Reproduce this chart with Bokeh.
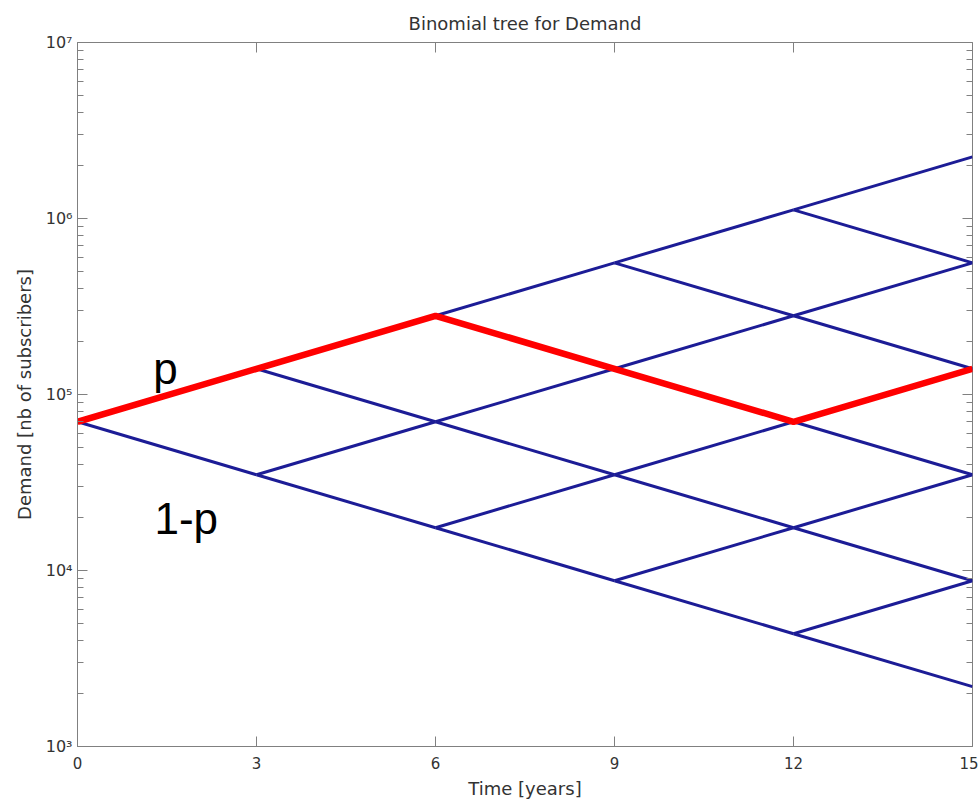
from bokeh.plotting import figure
from bokeh.models import (LinearAxis, LogAxis, FixedTicker, CustomJSTickFormatter,
                          Range1d)
from bokeh.embed import file_html
from bokeh.resources import INLINE
from bokeh.core.properties import value

# ---------------- data ----------------
times = [0, 3, 6, 9, 12, 15]
demand_levels = [
    [70000],
    [140000, 35000],
    [280000, 70000, 17500],
    [560000, 140000, 35000, 8750],
    [1120000, 280000, 70000, 17500, 4375],
    [2240000, 560000, 140000, 35000, 8750, 2187.5],
]
path_times = [0, 3, 6, 9, 12, 15]
path_demand = [70000, 140000, 280000, 140000, 70000, 140000]

x_ticks = [0, 3, 6, 9, 12, 15]
y_ticks = [1e3, 1e4, 1e5, 1e6, 1e7]
y_minor = [m * t for t in y_ticks[:-1] for m in range(2, 10)]

annot_text = ["p", "1-p"]
annot_x = [1.27, 1.29]
annot_y = [140500, 19700]

# ---------------- build tree edges ----------------
xs, ys = [], []
for i in range(len(times) - 1):
    nxt = demand_levels[i + 1]
    for k, v in enumerate(demand_levels[i]):
        xs.append([times[i], times[i + 1]]); ys.append([v, nxt[k]])
        xs.append([times[i], times[i + 1]]); ys.append([v, nxt[k + 1]])

FONT = "DejaVu Sans"
GRAY = "#808080"
TXT = "#333333"

p = figure(width=978, height=804, x_range=Range1d(0, 15), y_range=Range1d(1e3, 1e7),
           y_axis_type="log", output_backend="svg", toolbar_location=None,
           title="Binomial tree for Demand",
           min_border_left=77, min_border_right=6, min_border_top=42, min_border_bottom=58)

p.background_fill_color = "white"
p.border_fill_color = "white"
p.outline_line_color = GRAY
p.grid.visible = False

p.title.align = "center"
p.title.text_font = FONT
p.title.text_font_size = "18px"
p.title.text_font_style = "normal"
p.title.text_color = TXT
p.title.standoff = 18

p.multi_line(xs, ys, line_color="#1c1c96", line_width=3)
p.line(path_times, path_demand, line_color="#ff0000", line_width=6.5)

p.text(x=annot_x, y=annot_y, text=annot_text, text_font=value("Liberation Sans"),
       text_font_size="44px", text_color="black", text_baseline="alphabetic",
       text_align="left")

sup_code = """
const sup = {'0':'\u2070','1':'\u00b9','2':'\u00b2','3':'\u00b3','4':'\u2074','5':'\u2075','6':'\u2076','7':'\u2077','8':'\u2078','9':'\u2079','-':'\u207b'};
const e = Math.round(Math.log10(tick));
return '10' + String(e).split('').map(c => sup[c]).join('');
"""

xax = p.xaxis[0]
xax.ticker = FixedTicker(ticks=x_ticks)
xax.axis_label = "Time [years]"
yax = p.yaxis[0]
yax.ticker = FixedTicker(ticks=y_ticks, minor_ticks=y_minor)
yax.formatter = CustomJSTickFormatter(code=sup_code)
yax.axis_label = "Demand [nb of subscribers]"

for ax in (xax, yax):
    ax.axis_line_color = GRAY
    ax.major_tick_line_color = GRAY
    ax.minor_tick_line_color = GRAY
    ax.major_tick_in = 10
    ax.major_tick_out = 0
    ax.minor_tick_in = 6
    ax.minor_tick_out = 0
    ax.major_label_text_font = FONT
    ax.major_label_text_font_size = "15px"
    ax.major_label_text_color = TXT
    ax.axis_label_text_font = FONT
    ax.axis_label_text_font_size = "18px"
    ax.axis_label_text_font_style = "normal"
    ax.axis_label_text_color = TXT
xax.minor_tick_line_color = None
xax.major_label_standoff = 10
xax.axis_label_standoff = 6
yax.major_label_standoff = 5
yax.axis_label_standoff = 8
yax.major_label_text_font_size = "16px"

blank = CustomJSTickFormatter(code="return '';")
top = LinearAxis(ticker=FixedTicker(ticks=x_ticks), formatter=blank)
right = LogAxis(ticker=FixedTicker(ticks=y_ticks, minor_ticks=y_minor), formatter=blank)
for ax in (top, right):
    ax.axis_line_color = None
    ax.major_tick_line_color = GRAY
    ax.minor_tick_line_color = GRAY
    ax.major_tick_in = 10
    ax.major_tick_out = 0
    ax.minor_tick_in = 6
    ax.minor_tick_out = 0
    ax.major_label_standoff = 0
    ax.major_label_text_font_size = "1px"
top.minor_tick_line_color = None
p.add_layout(top, "above")
p.add_layout(right, "right")

open("out.html", "w").write(file_html(p, INLINE))
